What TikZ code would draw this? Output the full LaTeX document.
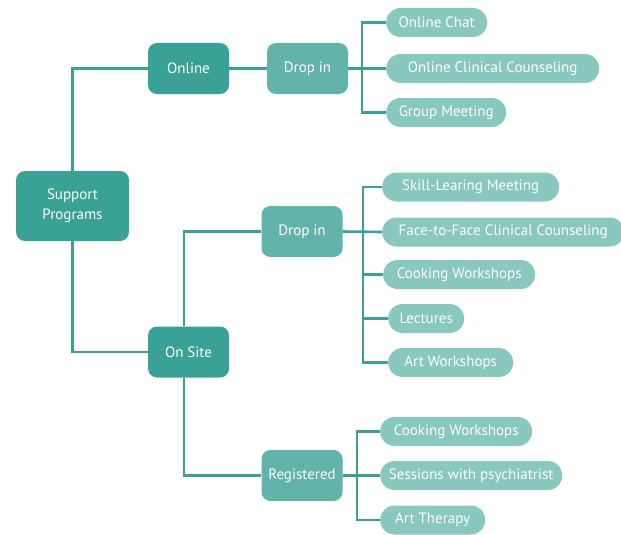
\documentclass[tikz,border=0pt]{standalone}
\usepackage{fontspec}
\setmainfont{PT Sans}
\definecolor{dark}{HTML}{3AA197}
\definecolor{mid}{HTML}{62B3A9}
\definecolor{light}{HTML}{88C8BF}
\definecolor{wire}{HTML}{3AA197}
\begin{document}
\begin{tikzpicture}[x=1pt,y=-1pt,
  rootbox/.style={fill=dark,rounded corners=9pt,text=white,minimum width=113pt,minimum height=70pt,align=center,font=\fontsize{15}{20}\selectfont,inner sep=0pt},
  catbox/.style={fill=dark,rounded corners=9pt,text=white,minimum width=81pt,minimum height=51pt,font=\fontsize{15}{18}\selectfont,inner sep=0pt},
  subbox/.style={fill=mid,rounded corners=9pt,text=white,minimum width=81pt,minimum height=51pt,font=\fontsize{15}{18}\selectfont,inner sep=0pt},
  leaf/.style={fill=light,rounded corners=14.5pt,text=white,minimum height=29pt,font=\fontsize{15}{18}\selectfont,inner sep=0pt,anchor=west},
  wire/.style={draw=wire,line width=2.6pt}]
\useasboundingbox (0,0) rectangle (621,535);
\coordinate (onsT) at (184,326);
\coordinate (onsB) at (184,378);
\coordinate (j1) at (362,68);
\coordinate (j2) at (363,232);
\coordinate (j3) at (357,476);
% nodes
\node[rootbox] (root) at (72.5,206) {Support\\Programs};
\node[catbox] (online) at (188.5,68.5) {Online};
\node[subbox] (d1) at (307.5,68.5) {Drop in};
\node[catbox] (onsite) at (188.5,352) {On Site};
\node[subbox] (d2) at (302,231.5) {Drop in};
\node[subbox] (reg) at (302,475.5) {Registered};
\node[leaf,minimum width=101pt] (a1) at (386,22.5) {Online Chat};
\node[leaf,minimum width=213pt] (a2) at (386,68.5) {Online Clinical Counseling};
\node[leaf,minimum width=120pt] (a3) at (386,112.5) {Group Meeting};
\node[leaf,minimum width=177pt] (b1) at (382,187) {Skill-Learing Meeting};
\node[leaf,minimum width=242pt] (b2) at (382,232) {Face-to-Face Clinical Counseling};
\node[leaf,minimum width=152pt] (b3) at (383,274.5) {Cooking Workshops};
\node[leaf,minimum width=76pt] (b4) at (388,318.5) {Lectures};
\node[leaf,minimum width=125pt] (b5) at (388,362.5) {Art Workshops};
\node[leaf,minimum width=152pt] (c1) at (380,431.5) {Cooking Workshops};
\node[leaf,minimum width=182pt] (c2) at (380,475.5) {Sessions with psychiatrist};
\node[leaf,minimum width=105pt] (c3) at (380,520) {Art Therapy};
% wires
\draw[wire] (root.north) |- (online.west);
\draw[wire] (root.south) |- (onsite.west);
\draw[wire] (online.east) -- (d1.west);
\draw[wire] (onsite.north -| onsT) |- (d2.west);
\draw[wire] (onsite.south -| onsB) |- (reg.west);
\draw[wire] (d1.east) -- (a2.west);
\draw[wire] (j1) |- (a1.west);
\draw[wire] (j1) |- (a3.west);
\draw[wire] (d2.east) -- (b2.west);
\draw[wire] (j2) |- (b1.west);
\draw[wire] (j2) |- (b3.west);
\draw[wire] (j2) |- (b4.west);
\draw[wire] (j2) |- (b5.west);
\draw[wire] (reg.east) -- (c2.west);
\draw[wire] (j3) |- (c1.west);
\draw[wire] (j3) |- (c3.west);
\end{tikzpicture}
\end{document}
